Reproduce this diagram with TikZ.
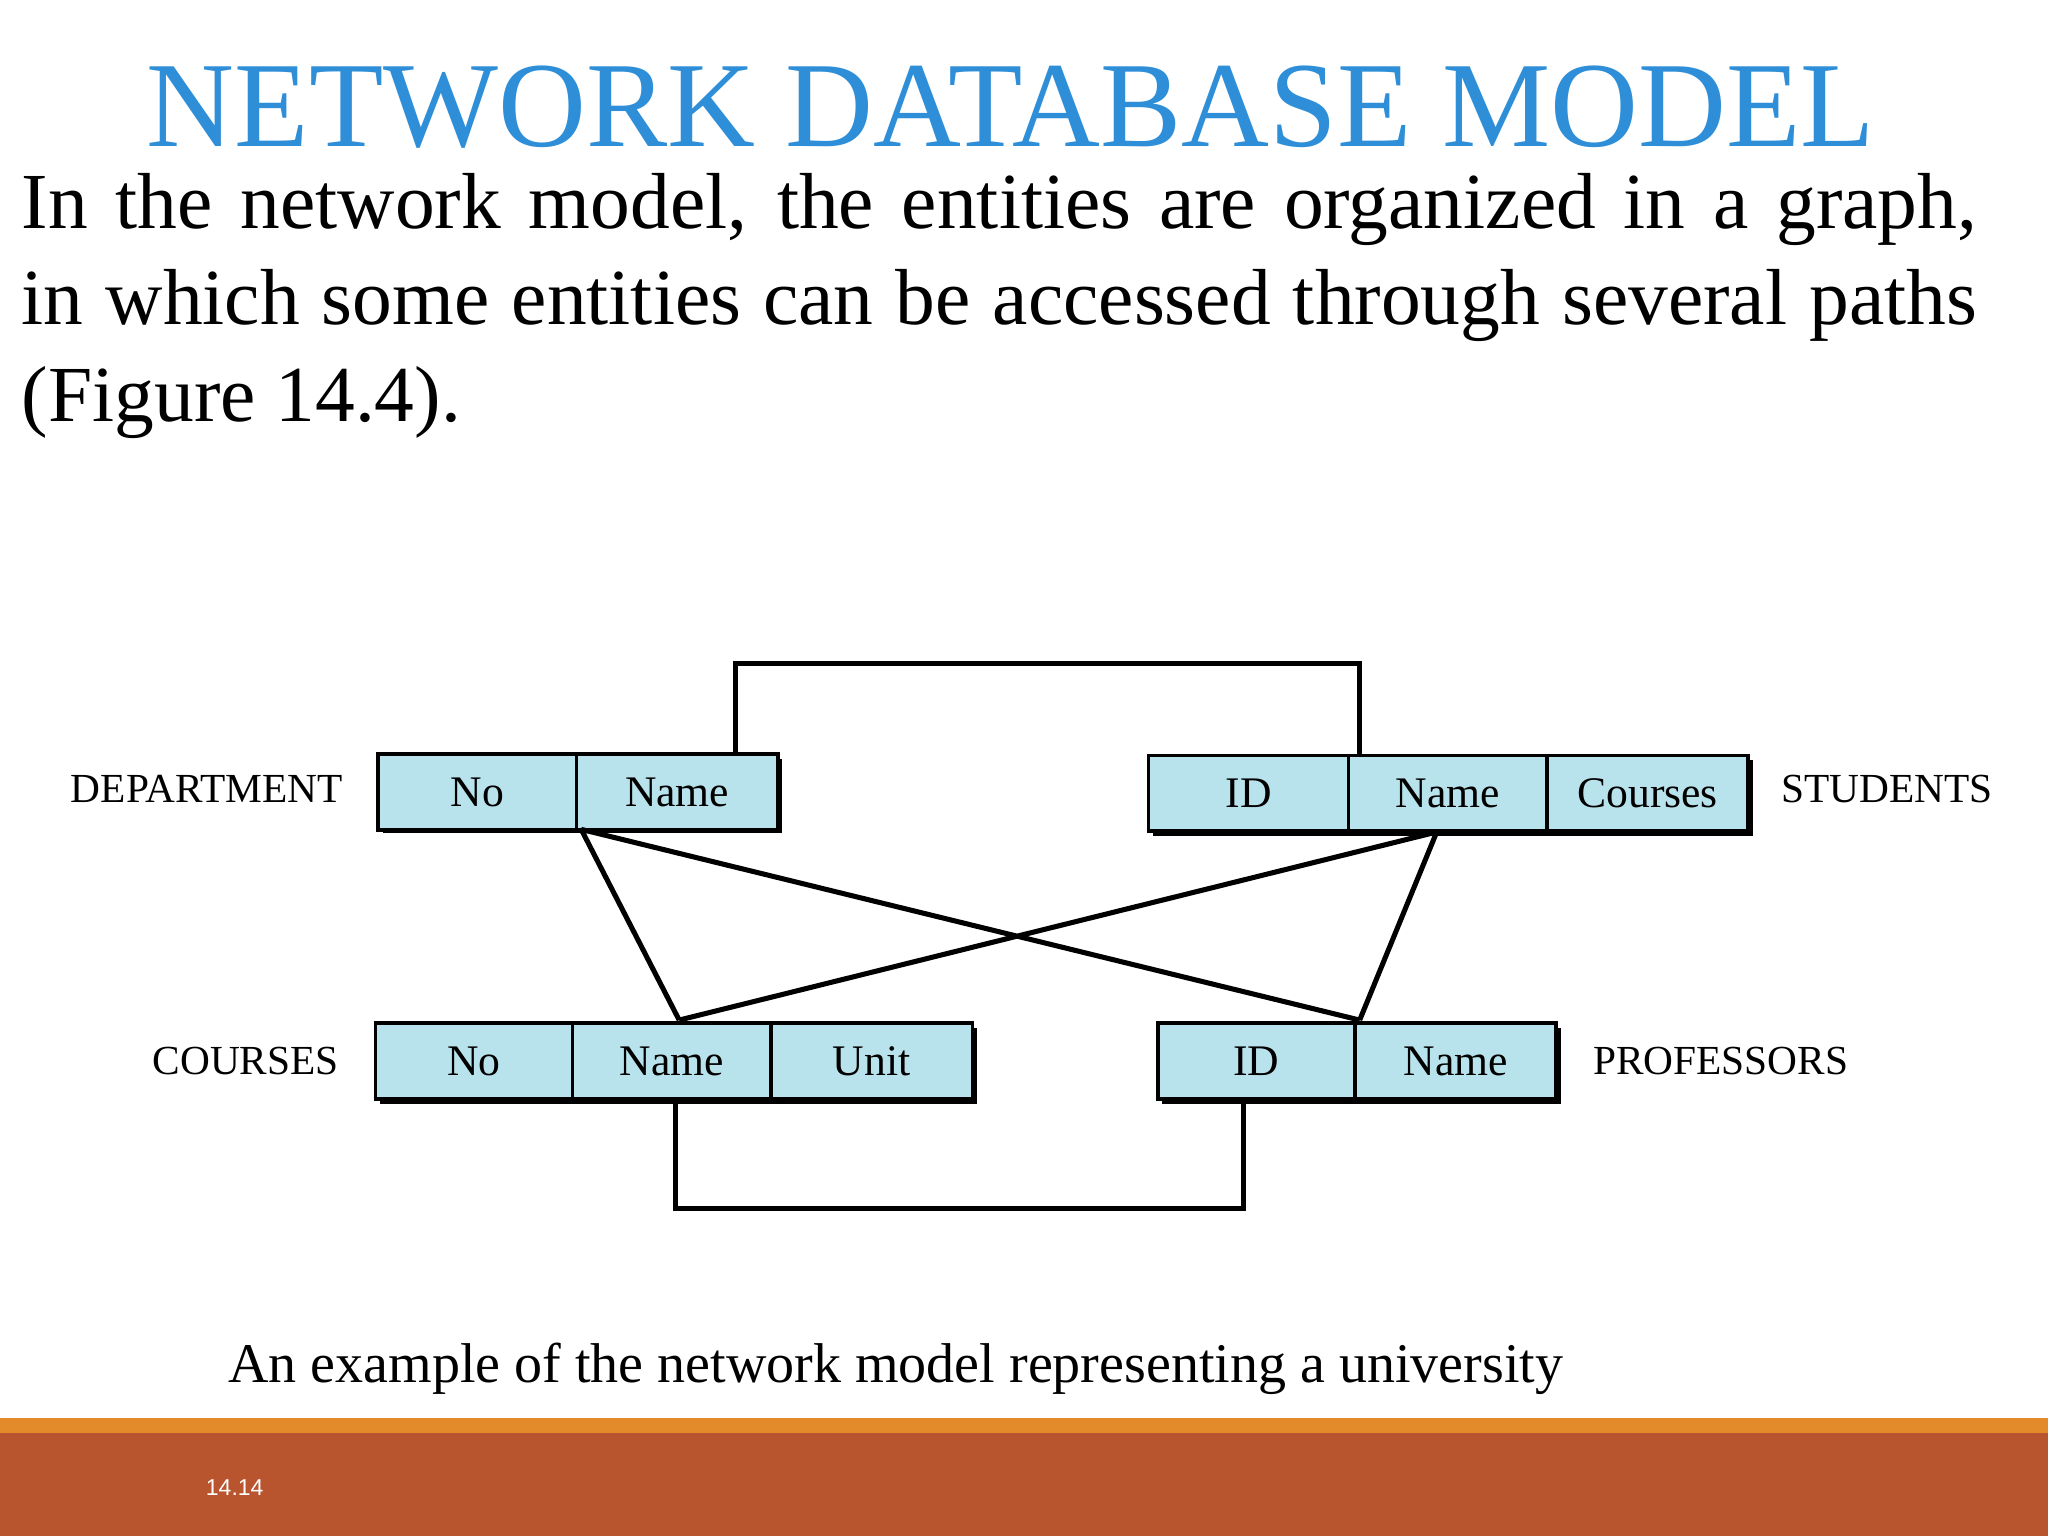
\documentclass[tikz,border=0pt]{standalone}
\usepackage{fontspec}
\setmainfont{Liberation Serif}
\newfontfamily\footfont{Liberation Sans}
\definecolor{titleblue}{HTML}{2E8FD8}
\definecolor{cellfill}{HTML}{B9E3EC}
\definecolor{footorange}{HTML}{E38A2A}
\definecolor{footbrown}{HTML}{B9552E}
\begin{document}
\begin{tikzpicture}[x=0.01cm,y=-0.01cm,
  cell/.style={draw,fill=cellfill,line width=0.8pt,minimum height=0.58cm,inner sep=0pt,font=\fontsize{9.5}{11}\selectfont,anchor=north west},
  lbl/.style={font=\fontsize{9}{11}\selectfont,inner sep=0pt},
  link/.style={line width=1.1pt}]
\useasboundingbox (0,0) rectangle (1568,1176);
\fill[white] (0,0) rectangle (1568,1176);
\fill[footorange] (0,1086) rectangle (1568,1097);
\fill[footbrown] (0,1097) rectangle (1568,1176);
\node[font=\fontsize{26.5}{30}\selectfont,text=titleblue,inner sep=0pt] (title) at (774,82) {NETWORK DATABASE MODEL};
\node[anchor=north west,inner sep=0pt,text width=14.96cm,align=justify,font=\fontsize{17.3}{21}\selectfont] (body) at (16,132)
 {In the network model, the entities are organized in a graph, in which some entities can be accessed through several paths (Figure 14.4).};
% shadows
\foreach \a/\b/\c/\d in {288/576/594/633, 878/577/1337/635, 286/782/743/840, 885/782/1190/840}
  \fill[black] (\a+5,\b+5) rectangle (\c+5,\d+5);
% cells
\node[cell,minimum width=1.52cm] (dno) at (288,576) {No};
\node[cell,minimum width=1.54cm] (dname) at (440,576) {Name};
\node[cell,minimum width=1.53cm] (sid) at (878,577) {ID};
\node[cell,minimum width=1.52cm] (sname) at (1031,577) {Name};
\node[cell,minimum width=1.54cm] (scourses) at (1183,577) {Courses};
\node[cell,minimum width=1.51cm] (cno) at (286,782) {No};
\node[cell,minimum width=1.52cm] (cname) at (437,782) {Name};
\node[cell,minimum width=1.54cm] (cunit) at (589,782) {Unit};
\node[cell,minimum width=1.51cm] (pid) at (885,782) {ID};
\node[cell,minimum width=1.54cm] (pname) at (1036,782) {Name};
\node[lbl,anchor=east] (ldep) at (263,604) {DEPARTMENT};
\node[lbl,anchor=west] (lstu) at (1363,604) {STUDENTS};
\node[lbl,anchor=east] (lcou) at (260,812) {COURSES};
\node[lbl,anchor=west] (lpro) at (1219,812) {PROFESSORS};
% links
\coordinate (t1) at (563,508); \coordinate (t2) at (1041,508);
\draw[link] (dname.north -| t1) -- (t1) -- (t2) -- (sname.north -| t2);
\coordinate (b1) at (517,925); \coordinate (b2) at (952,925);
\draw[link] (cname.south -| b1) -- (b1) -- (b2) -- (pid.south -| b2);
\coordinate (da) at (445,635); \coordinate (sa) at (1100,637);
\coordinate (ca) at (520,781); \coordinate (pa) at (1041,781);
\draw[link] (da) -- (ca) (da) -- (pa) (sa) -- (ca) (sa) -- (pa);
\node[font=\fontsize{12.2}{14}\selectfont,inner sep=0pt,anchor=west] (cap) at (174,1048) {An example of the network model representing a university};
\node[font=\footfont\fontsize{5}{6}\selectfont,text=white,inner sep=0pt,anchor=west] (num) at (157,1139) {14.14};
\end{tikzpicture}
\end{document}
